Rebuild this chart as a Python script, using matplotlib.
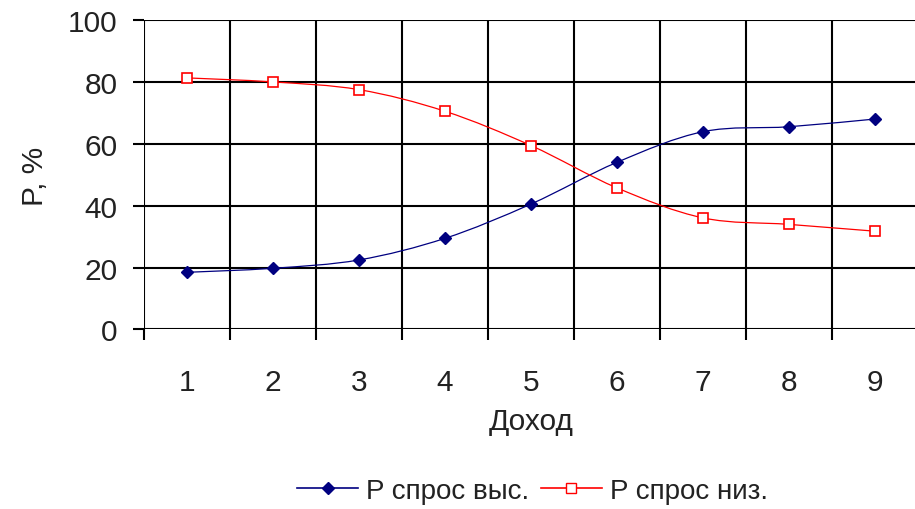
import numpy as np
import matplotlib
matplotlib.use('Agg')
import matplotlib.pyplot as plt
from matplotlib.path import Path
from matplotlib.patches import PathPatch
from matplotlib.lines import Line2D

plt.rcParams['font.family'] = ['Liberation Sans', 'DejaVu Sans']

income = [1, 2, 3, 4, 5, 6, 7, 8, 9]
p_high = [18.5, 19.8, 22.5, 29.5, 40.6, 54.1, 64.0, 65.6, 68.1]
p_low = [81.4, 80.1, 77.6, 70.6, 59.5, 45.8, 36.1, 34.0, 31.8]
labels = ['P спрос выс.', 'P спрос низ.']
text_color = '#222222'


def smooth_path(xs, ys):
    # Excel-like smoothed line: cubic Bezier through the data points
    pts = np.column_stack([xs, ys]).astype(float)
    n = len(pts)
    verts = [pts[0]]
    codes = [Path.MOVETO]
    for i in range(n - 1):
        p0 = pts[max(i - 1, 0)]
        p1 = pts[i]
        p2 = pts[i + 1]
        p3 = pts[min(i + 2, n - 1)]
        c1 = p1 + (p2 - p0) / 6.0
        c2 = p2 - (p3 - p1) / 6.0
        verts += [c1, c2, p2]
        codes += [Path.CURVE4] * 3
    return Path(verts, codes)


fig = plt.figure(figsize=(9.15, 5.10), dpi=100)
ax = fig.add_axes([0.1574, 0.352, 0.846, 0.606])

ax.add_patch(PathPatch(smooth_path(income, p_high), fill=False,
                       edgecolor='#000080', lw=0.9, zorder=3))
ax.add_patch(PathPatch(smooth_path(income, p_low), fill=False,
                       edgecolor='#ff0000', lw=0.9, zorder=3))
ax.plot(income, p_high, linestyle='none', marker='D', markersize=6,
        color='#000080', zorder=4)
ax.plot(income, p_low, linestyle='none', marker='s', markersize=7,
        markerfacecolor='white', markeredgecolor='#ff0000',
        markeredgewidth=1.2, zorder=4)

ax.set_xlim(0.5, 9.5)
ax.set_ylim(0, 100)
ax.set_xticks(np.arange(0.5, 10, 1))
ax.set_xticklabels([])
ax.set_xticks(income, minor=True)
ax.set_xticklabels([str(i) for i in income], minor=True)
ax.set_yticks(range(0, 101, 20))

ax.tick_params(axis='x', which='major', length=8, width=1.5,
               direction='out', color='black')
ax.tick_params(axis='x', which='minor', length=0, pad=28,
               labelsize=21.5, labelcolor=text_color)
ax.tick_params(axis='y', length=8, width=1.5, direction='out',
               pad=11, labelsize=21.5, labelcolor=text_color)

ax.grid(True, which='major', color='black', lw=1.5)
for s in ax.spines.values():
    s.set_visible(False)

ax.set_xlabel('Доход', fontsize=21.5, color=text_color, labelpad=8)
ax.set_ylabel('P, %', fontsize=21.5, color=text_color, labelpad=14)

handles = [
    Line2D([], [], color='#000080', lw=1.2, marker='D', markersize=6),
    Line2D([], [], color='#ff0000', lw=1.2, marker='s', markersize=7,
           markerfacecolor='white', markeredgecolor='#ff0000'),
]
fig.legend(handles, labels, loc='center', bbox_to_anchor=(0.582, 0.035),
           ncol=2, frameon=False, fontsize=20, handlelength=2.2,
           handletextpad=0.3, columnspacing=0.4, labelcolor=text_color)

fig.savefig('out.png', dpi=100)
